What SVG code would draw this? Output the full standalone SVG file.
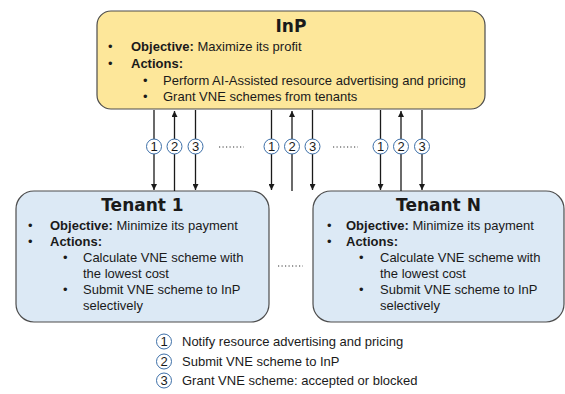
<svg xmlns="http://www.w3.org/2000/svg" width="565" height="394" viewBox="0 0 565 394">
<defs>
<style>
text{font-family:"Liberation Sans",Arial,sans-serif;fill:#1a1a1a;font-size:13px}
.t{font-family:"DejaVu Sans",sans-serif;font-weight:bold;text-anchor:middle;font-size:17px}
.b{font-weight:bold}
.inp{fill:#fde79a;stroke:#4d4d4d;stroke-width:1.2}
.ten{fill:#dce9f5;stroke:#4d4d4d;stroke-width:1.2}
.ar{stroke:#1a1a1a;stroke-width:1.3;fill:none}
.c{fill:#fff;stroke:#3d6fa8;stroke-width:1}
.n{text-anchor:middle;font-size:13px}
.d{stroke:#333;stroke-width:1;stroke-dasharray:1.2 2.3}
</style>
<marker id="ah" viewBox="0 0 10 10" refX="10" refY="5" markerWidth="6" markerHeight="6" markerUnits="userSpaceOnUse" orient="auto">
<path d="M0,0 L10,5 L0,10 z" fill="#1a1a1a"/>
</marker>
</defs>
<g id="inp">
<rect class="inp" x="97" y="11" width="388" height="98" rx="14"/>
<text class="t" x="291" y="32">InP</text>
<text x="108" y="51">•</text>
<text x="131" y="51"><tspan class="b">Objective:</tspan> Maximize its profit</text>
<text x="108" y="68">•</text>
<text x="131" y="68" class="b">Actions:</text>
<text x="143" y="85">•</text>
<text x="163" y="85">Perform AI-Assisted resource advertising and pricing</text>
<text x="143" y="101">•</text>
<text x="163" y="101">Grant VNE schemes from tenants</text>
</g>
<g id="tenant1">
<rect class="ten" x="16" y="191" width="253" height="131" rx="18"/>
<text class="t" x="142.5" y="211">Tenant 1</text>
<text x="28" y="230">•</text>
<text x="50" y="230"><tspan class="b">Objective:</tspan> Minimize its payment</text>
<text x="28" y="246">•</text>
<text x="50" y="246" class="b">Actions:</text>
<text x="63" y="262">•</text>
<text x="83" y="262">Calculate VNE scheme with</text>
<text x="83" y="278">the lowest cost</text>
<text x="63" y="294">•</text>
<text x="83" y="294">Submit VNE scheme to InP</text>
<text x="83" y="310">selectively</text>
</g>
<g id="tenantN">
<rect class="ten" x="313" y="191" width="251" height="131" rx="18"/>
<text class="t" x="438.5" y="211">Tenant N</text>
<text x="327" y="230">•</text>
<text x="346" y="230"><tspan class="b">Objective:</tspan> Minimize its payment</text>
<text x="327" y="246">•</text>
<text x="346" y="246" class="b">Actions:</text>
<text x="359" y="262">•</text>
<text x="380" y="262">Calculate VNE scheme with</text>
<text x="380" y="278">the lowest cost</text>
<text x="359" y="294">•</text>
<text x="380" y="294">Submit VNE scheme to InP</text>
<text x="380" y="310">selectively</text>
</g>
<g id="connectors">
<line class="ar" x1="154" y1="110" x2="154" y2="190" marker-end="url(#ah)"/>
<line class="ar" x1="174.5" y1="191" x2="174.5" y2="111" marker-end="url(#ah)"/>
<line class="ar" x1="195.5" y1="110" x2="195.5" y2="190" marker-end="url(#ah)"/>
<line class="ar" x1="271.5" y1="110" x2="271.5" y2="190" marker-end="url(#ah)"/>
<line class="ar" x1="292" y1="191" x2="292" y2="111" marker-end="url(#ah)"/>
<line class="ar" x1="312.5" y1="110" x2="312.5" y2="190" marker-end="url(#ah)"/>
<line class="ar" x1="380.5" y1="110" x2="380.5" y2="190" marker-end="url(#ah)"/>
<line class="ar" x1="401" y1="191" x2="401" y2="111" marker-end="url(#ah)"/>
<line class="ar" x1="422" y1="110" x2="422" y2="190" marker-end="url(#ah)"/>
<circle class="c" cx="154" cy="146.5" r="7.5"/><text class="n" x="154" y="151">1</text>
<circle class="c" cx="174.5" cy="146.5" r="7.5"/><text class="n" x="174.5" y="151">2</text>
<circle class="c" cx="195.5" cy="146.5" r="7.5"/><text class="n" x="195.5" y="151">3</text>
<circle class="c" cx="271.5" cy="146.5" r="7.5"/><text class="n" x="271.5" y="151">1</text>
<circle class="c" cx="292" cy="146.5" r="7.5"/><text class="n" x="292" y="151">2</text>
<circle class="c" cx="312.5" cy="146.5" r="7.5"/><text class="n" x="312.5" y="151">3</text>
<circle class="c" cx="380.5" cy="146.5" r="7.5"/><text class="n" x="380.5" y="151">1</text>
<circle class="c" cx="401" cy="146.5" r="7.5"/><text class="n" x="401" y="151">2</text>
<circle class="c" cx="422" cy="146.5" r="7.5"/><text class="n" x="422" y="151">3</text>
<line class="d" x1="219" y1="147" x2="244" y2="147"/>
<line class="d" x1="333" y1="147" x2="358" y2="147"/>
<line class="d" x1="278" y1="266" x2="303" y2="266"/>
</g>
<g id="legend">
<circle class="c" cx="164" cy="341.5" r="7.5"/><text class="n" x="164" y="346">1</text>
<text x="182" y="346">Notify resource advertising and pricing</text>
<circle class="c" cx="164" cy="361.5" r="7.5"/><text class="n" x="164" y="366">2</text>
<text x="182" y="366">Submit VNE scheme to InP</text>
<circle class="c" cx="164" cy="380.5" r="7.5"/><text class="n" x="164" y="385">3</text>
<text x="182" y="385">Grant VNE scheme: accepted or blocked</text>
</g>
</svg>
